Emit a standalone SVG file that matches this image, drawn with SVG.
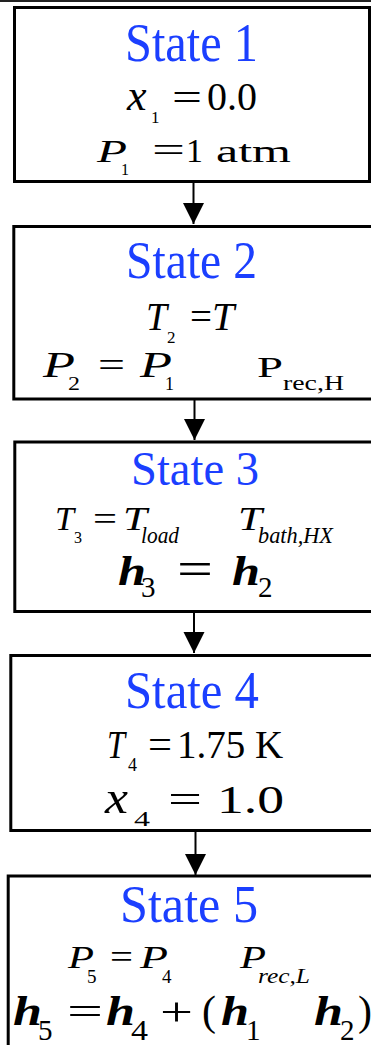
<svg xmlns="http://www.w3.org/2000/svg" width="371" height="1045" viewBox="0 0 371 1045">
<style>
text{font-family:"Liberation Serif","Times New Roman",serif;fill:#000}
.ti{fill:#1b3fff}
.i{font-style:italic}
.bi{font-style:italic;font-weight:bold}
.box{fill:#fff;stroke:#000;stroke-width:3}
.ln{stroke:#000;stroke-width:2;fill:none}
</style>
<defs>
<marker id="ah" markerWidth="21" markerHeight="22" refX="21" refY="10.5" orient="auto" markerUnits="userSpaceOnUse">
<path d="M0,0 L21,10.5 L0,21 Z" fill="#000"/>
</marker>
</defs>
<rect width="371" height="1045" fill="#fff"/>
<line x1="0" y1="1" x2="371" y2="1" stroke="#222" stroke-width="2"/>

<g id="connectors">
<line class="ln" x1="193.5" y1="182" x2="193.5" y2="224" marker-end="url(#ah)"/>
<line class="ln" x1="194.5" y1="400" x2="194.5" y2="440" marker-end="url(#ah)"/>
<line class="ln" x1="194" y1="612" x2="194" y2="653" marker-end="url(#ah)"/>
<line class="ln" x1="195.5" y1="831" x2="195.5" y2="875" marker-end="url(#ah)"/>
</g>

<g id="state1">
<rect class="box" x="14.5" y="7.5" width="355" height="174"/>
<text class="ti" x="125" y="61" font-size="54" textLength="133" lengthAdjust="spacingAndGlyphs">State 1</text>
<text class="i" x="127" y="110" font-size="44">x</text>
<text x="151" y="123" font-size="17">1</text>
<text x="172" y="110" font-size="38" textLength="30" lengthAdjust="spacingAndGlyphs">=</text>
<text x="207" y="110" font-size="40">0.0</text>
<text class="i" x="97" y="162" font-size="32" textLength="30" lengthAdjust="spacingAndGlyphs">P</text>
<text x="121" y="175" font-size="16">1</text>
<text x="152" y="162" font-size="36" textLength="33" lengthAdjust="spacingAndGlyphs">=</text>
<text x="186" y="162" font-size="33" textLength="17" lengthAdjust="spacingAndGlyphs">1</text>
<text x="216" y="162" font-size="31" textLength="75" lengthAdjust="spacingAndGlyphs">atm</text>
</g>

<g id="state2">
<rect class="box" x="13.8" y="226.5" width="365" height="172.5"/>
<text class="ti" x="126" y="278" font-size="53" textLength="131" lengthAdjust="spacingAndGlyphs">State 2</text>
<text class="i" x="146" y="330" font-size="40" textLength="21" lengthAdjust="spacingAndGlyphs">T</text>
<text x="167" y="343" font-size="17">2</text>
<text x="190" y="330" font-size="40" textLength="22" lengthAdjust="spacingAndGlyphs">=</text>
<text class="i" x="212" y="330" font-size="40">T</text>
<text class="i" x="43" y="377" font-size="36" textLength="32" lengthAdjust="spacingAndGlyphs">P</text>
<text x="68" y="390" font-size="18" textLength="12" lengthAdjust="spacingAndGlyphs">2</text>
<text x="98" y="377" font-size="36" textLength="27" lengthAdjust="spacingAndGlyphs">=</text>
<text class="i" x="140" y="377" font-size="36" textLength="32" lengthAdjust="spacingAndGlyphs">P</text>
<text x="165" y="390" font-size="18">1</text>
<text x="257" y="377" font-size="30" textLength="26" lengthAdjust="spacingAndGlyphs">P</text>
<text x="283" y="390" font-size="22" textLength="61" lengthAdjust="spacingAndGlyphs">rec,H</text>
</g>

<g id="state3">
<rect class="box" x="14.8" y="442" width="365" height="169.5"/>
<text class="ti" x="131" y="485" font-size="48" textLength="128" lengthAdjust="spacingAndGlyphs">State 3</text>
<text class="i" x="55" y="530" font-size="33" textLength="19" lengthAdjust="spacingAndGlyphs">T</text>
<text x="74" y="543" font-size="16">3</text>
<text x="93" y="530" font-size="34" textLength="24" lengthAdjust="spacingAndGlyphs">=</text>
<text class="i" x="123" y="530" font-size="33" textLength="24" lengthAdjust="spacingAndGlyphs">T</text>
<text class="i" x="141" y="543" font-size="23" textLength="38" lengthAdjust="spacingAndGlyphs">load</text>
<text class="i" x="238" y="530" font-size="33" textLength="24" lengthAdjust="spacingAndGlyphs">T</text>
<text class="i" x="258" y="543" font-size="23" textLength="75" lengthAdjust="spacingAndGlyphs">bath,HX</text>
<text class="bi" x="118" y="585" font-size="43" textLength="28" lengthAdjust="spacingAndGlyphs">h</text>
<text x="141" y="597" font-size="29">3</text>
<text x="177" y="585" font-size="48" textLength="36" lengthAdjust="spacingAndGlyphs">=</text>
<text class="bi" x="232" y="585" font-size="43" textLength="28" lengthAdjust="spacingAndGlyphs">h</text>
<text x="258" y="597" font-size="29">2</text>
</g>

<g id="state4">
<rect class="box" x="10.8" y="655.5" width="370" height="175"/>
<text class="ti" x="125" y="708" font-size="53" textLength="134" lengthAdjust="spacingAndGlyphs">State 4</text>
<text class="i" x="107" y="758" font-size="39" textLength="18" lengthAdjust="spacingAndGlyphs">T</text>
<text x="128" y="771" font-size="18">4</text>
<text x="148" y="758" font-size="42" textLength="24" lengthAdjust="spacingAndGlyphs">=</text>
<text x="177" y="758" font-size="39">1.75</text>
<text x="255" y="758" font-size="39">K</text>
<text class="i" x="105" y="813" font-size="46" textLength="23" lengthAdjust="spacingAndGlyphs">x</text>
<text x="134" y="826" font-size="20" textLength="16" lengthAdjust="spacingAndGlyphs">4</text>
<text x="168" y="813" font-size="40" textLength="34" lengthAdjust="spacingAndGlyphs">=</text>
<text x="217" y="813" font-size="41" textLength="67" lengthAdjust="spacingAndGlyphs">1.0</text>
</g>

<g id="state5">
<rect class="box" x="8.2" y="876" width="372" height="180"/>
<text class="ti" x="120" y="922" font-size="53" textLength="138" lengthAdjust="spacingAndGlyphs">State 5</text>
<text class="i" x="68" y="968" font-size="32" textLength="26" lengthAdjust="spacingAndGlyphs">P</text>
<text x="87" y="983" font-size="19">5</text>
<text x="110" y="968" font-size="34" textLength="23" lengthAdjust="spacingAndGlyphs">=</text>
<text class="i" x="140" y="968" font-size="32" textLength="28" lengthAdjust="spacingAndGlyphs">P</text>
<text x="162" y="983" font-size="19">4</text>
<text class="i" x="240" y="968" font-size="32" textLength="26" lengthAdjust="spacingAndGlyphs">P</text>
<text class="i" x="258" y="983" font-size="20" textLength="52" lengthAdjust="spacingAndGlyphs">rec,L</text>
<text class="bi" x="13" y="1025" font-size="43" textLength="29" lengthAdjust="spacingAndGlyphs">h</text>
<text x="38" y="1040" font-size="29">5</text>
<text x="67" y="1025" font-size="40" textLength="36" lengthAdjust="spacingAndGlyphs">=</text>
<text class="bi" x="106" y="1025" font-size="43" textLength="29" lengthAdjust="spacingAndGlyphs">h</text>
<text x="131" y="1040" font-size="29" textLength="17" lengthAdjust="spacingAndGlyphs">4</text>
<text x="160" y="1025" font-size="40" textLength="33" lengthAdjust="spacingAndGlyphs">+</text>
<text x="202" y="1025" font-size="42">(</text>
<text class="bi" x="221" y="1025" font-size="43" textLength="28" lengthAdjust="spacingAndGlyphs">h</text>
<text x="246" y="1040" font-size="29">1</text>
<text class="bi" x="314" y="1025" font-size="43" textLength="29" lengthAdjust="spacingAndGlyphs">h</text>
<text x="340" y="1040" font-size="29">2</text>
<text x="358" y="1025" font-size="42">)</text>
</g>
</svg>
